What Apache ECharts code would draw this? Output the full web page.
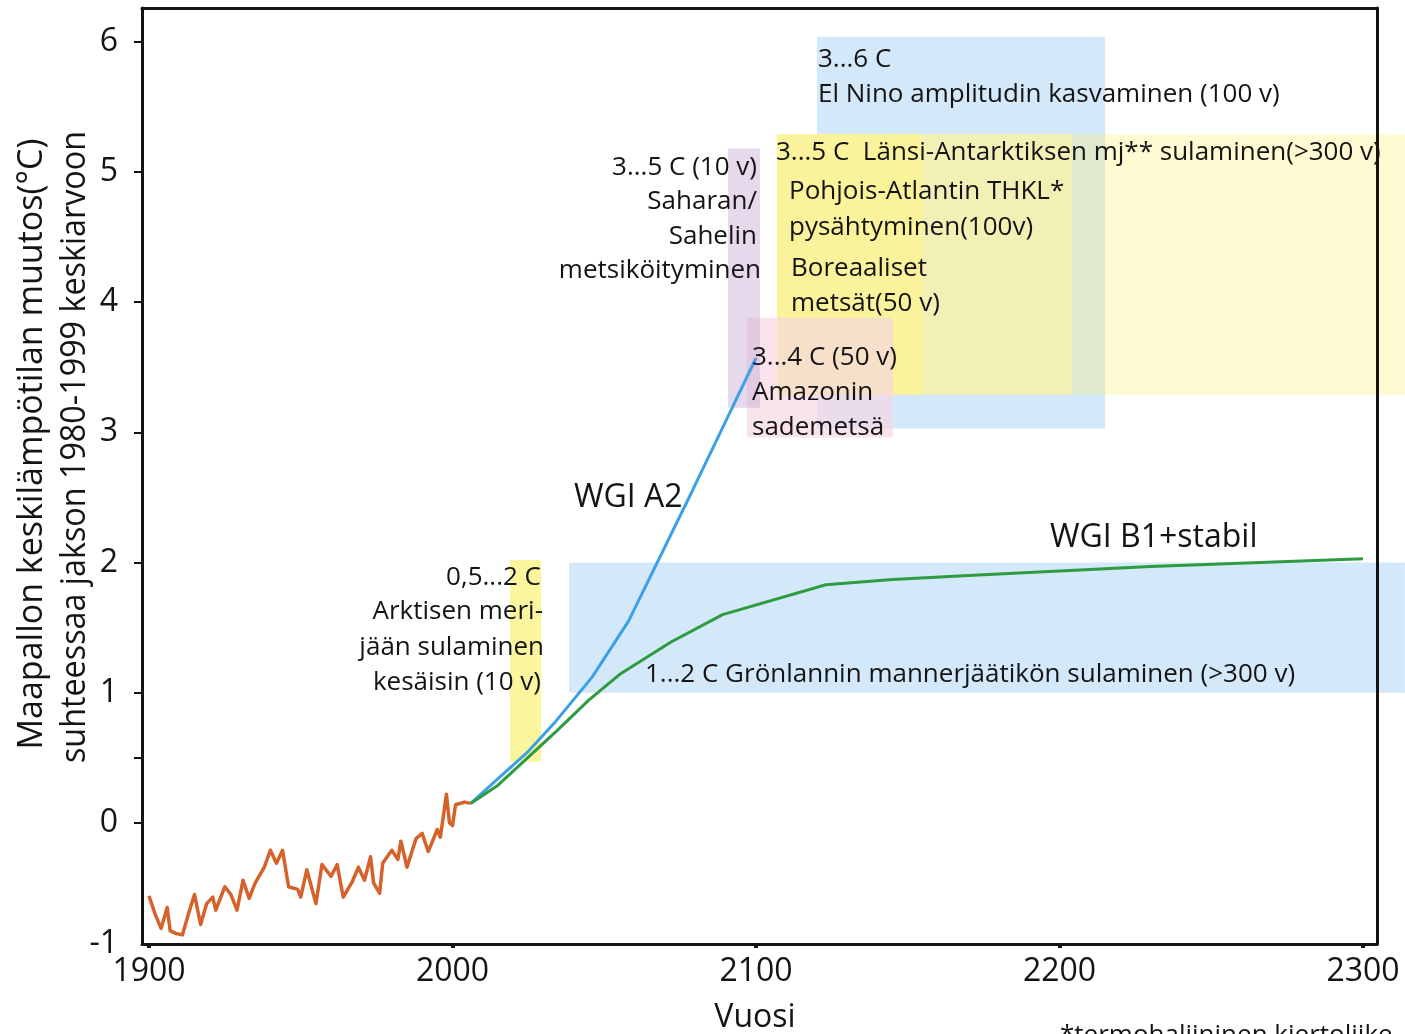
<!DOCTYPE html>
<html>
<head>
<meta charset="utf-8">
<script src="https://cdn.jsdelivr.net/npm/echarts@6/dist/echarts.min.js"></script>
<style>
  html, body { margin: 0; padding: 0; background: #ffffff; }
  #chart { width: 1405px; height: 1034px; }
</style>
</head>
<body>
<div id="chart"></div>
<script>
// Havaittu globaali keskilämpötilan muutos (°C, suhteessa 1980–1999 keskiarvoon)
const obsYears = [1900, 1902, 1904, 1906, 1907, 1909, 1911, 1913, 1915, 1917, 1919, 1921, 1922, 1925, 1927, 1929,
  1931, 1933, 1935, 1938, 1940, 1942, 1944, 1946, 1949, 1950, 1952, 1955, 1957, 1960, 1962, 1964, 1967, 1969,
  1971, 1973, 1974, 1976, 1977, 1980, 1982, 1983, 1985, 1988, 1990, 1992, 1995, 1996, 1998, 1999, 2000, 2001,
  2004, 2006];
const obsTemps = [-0.56, -0.70, -0.81, -0.65, -0.83, -0.85, -0.86, -0.70, -0.55, -0.78, -0.62, -0.57, -0.67, -0.49,
  -0.55, -0.67, -0.44, -0.58, -0.46, -0.34, -0.21, -0.31, -0.21, -0.49, -0.51, -0.57, -0.36, -0.62, -0.32, -0.41,
  -0.32, -0.57, -0.45, -0.34, -0.44, -0.26, -0.46, -0.54, -0.31, -0.21, -0.28, -0.14, -0.34, -0.12, -0.08, -0.22,
  -0.05, -0.11, 0.22, 0.00, -0.02, 0.14, 0.16, 0.15];

// Skenaario WGI A2
const a2Years = [2006, 2015, 2025, 2034, 2046, 2058, 2079, 2100];
const a2Temps = [0.15, 0.34, 0.55, 0.78, 1.12, 1.55, 2.55, 3.57];

// Skenaario WGI B1 + stabilointi
const b1Years = [2006, 2015, 2034, 2045, 2055, 2072, 2089, 2123, 2145, 2170, 2230, 2300];
const b1Temps = [0.15, 0.29, 0.70, 0.945, 1.14, 1.39, 1.60, 1.83, 1.87, 1.90, 1.97, 2.03];

// Kynnysalueet: vuodet (alku, loppu) ja lämpötila (ala, ylä)
const bandNames = ['Grönlanti', 'El Nino', 'Länsi-Antarktis', 'THKL', 'Boreaaliset metsät', 'Amazon', 'Sahara/Sahel', 'Arktinen merijää'];
const bandFrom = [2038.4, 2120.1, 2106.9, 2106.9, 2106.9, 2097.0, 2090.8, 2018.9];
const bandTo   = [2313.8, 2215.0, 2313.8, 2204.1, 2154.7, 2145.1, 2101.3, 2029.2];
const bandLow  = [1.00, 3.03, 3.29, 3.29, 3.29, 2.96, 3.19, 0.47];
const bandHigh = [2.00, 6.04, 5.29, 5.29, 5.29, 3.88, 5.18, 2.02];

// Akselien jaotus
const xTicks = [1900, 2000, 2100, 2200, 2300];
const yTicks = [0, 0.5, 1, 2, 3, 4, 5, 6];
const X_MIN = 1897.7, X_MAX = 2304.6;
const Y_MIN = -0.93, Y_MAX = 6.26;
const yLabels = [Y_MIN, 0, 1, 2, 3, 4, 5, 6];

const bandFill = [
  'rgba(170,210,243,0.52)',
  'rgba(170,210,243,0.52)',
  'rgba(252,238,95,0.29)',
  'rgba(243,240,178,0.93)',
  'rgba(250,242,155,0.95)',
  'rgba(246,214,226,0.65)',
  'rgba(190,160,205,0.40)',
  'rgba(250,242,120,0.72)'
];

const FONT = '"Open Sans", "Noto Sans", sans-serif';
const INK = '#141414';

// Tekstit: [teksti, x, y, tasaus, koko]
const textLayout = [
  ['3...6 C', 818, 60, 'left', 26],
  ['El Nino amplitudin kasvaminen (100 v)', 818, 95, 'left', 26],
  ['3...5 C  Länsi-Antarktiksen mj** sulaminen(>300 v)', 776, 153, 'left', 26],
  ['Pohjois-Atlantin THKL*', 789, 192, 'left', 26],
  ['pysähtyminen(100v)', 789, 228, 'left', 26],
  ['Boreaaliset', 791, 269, 'left', 26],
  ['metsät(50 v)', 791, 304, 'left', 26],
  ['3...4 C (50 v)', 752, 358, 'left', 26],
  ['Amazonin', 752, 393, 'left', 26],
  ['sademetsä', 752, 428, 'left', 26],
  ['3...5 C (10 v)', 757, 168, 'right', 26],
  ['Saharan/', 757, 202, 'right', 26],
  ['Sahelin', 757, 237, 'right', 26],
  ['metsiköityminen', 761, 271, 'right', 26],
  ['0,5...2 C', 541, 578, 'right', 26],
  ['Arktisen meri-', 543, 612, 'right', 26],
  ['jään sulaminen', 544, 648, 'right', 26],
  ['kesäisin (10 v)', 541, 683, 'right', 26],
  ['1...2 C Grönlannin mannerjäätikön sulaminen (>300 v)', 645, 675, 'left', 26],
  ['WGI A2', 574, 498, 'left', 32],
  ['WGI B1+stabil', 1050, 538, 'left', 32],
  ['Vuosi', 755, 1018, 'center', 32],
  ['*termohaliininen kiertoliike', 1060, 1036, 'left', 26]
];

const chart = echarts.init(document.getElementById('chart'), null, { renderer: 'canvas' });

const graphics = textLayout.map(t => ({
  type: 'text',
  x: t[1], y: t[2], z: 100,
  style: {
    text: t[0], fill: INK, font: t[4] + 'px ' + FONT,
    textAlign: t[3], textVerticalAlign: 'middle'
  }
}));
graphics.push({
  type: 'text', x: 32, y: 444, rotation: Math.PI / 2, z: 100,
  style: { text: 'Maapallon keskilämpötilan muutos(°C)', fill: INK, font: '34px ' + FONT,
    textAlign: 'center', textVerticalAlign: 'middle' }
});
graphics.push({
  type: 'text', x: 75, y: 447, rotation: Math.PI / 2, scaleX: 0.95, z: 100,
  style: { text: 'suhteessaa jakson 1980-1999 keskiarvoon', fill: INK, font: '34px ' + FONT,
    textAlign: 'center', textVerticalAlign: 'middle' }
});

const axisLineStyle = { color: INK, width: 3 };

chart.setOption({
  backgroundColor: '#ffffff',
  animation: false,
  grid: { left: 142, right: 28, top: 8, bottom: 90, containLabel: false },
  xAxis: [{
    type: 'value', min: X_MIN, max: X_MAX, z: 10,
    axisLine: { show: true, onZero: false, lineStyle: axisLineStyle },
    axisTick: { show: true, customValues: xTicks, length: 4, lineStyle: { color: INK, width: 4 } },
    axisLabel: { customValues: xTicks, margin: 12, color: INK, fontSize: 32, fontFamily: FONT,
      formatter: v => String(Math.round(v)) },
    splitLine: { show: false }
  }, {
    type: 'value', position: 'top', min: X_MIN, max: X_MAX, z: 10,
    axisLine: { show: true, onZero: false, lineStyle: axisLineStyle },
    axisTick: { show: false }, axisLabel: { show: false }, splitLine: { show: false }
  }],
  yAxis: [{
    type: 'value', min: Y_MIN, max: Y_MAX, z: 10,
    axisLine: { show: true, onZero: false, lineStyle: axisLineStyle },
    axisTick: { show: true, customValues: yTicks, length: 8, lineStyle: { color: INK, width: 2 } },
    axisLabel: { customValues: yLabels, margin: 24, color: INK, fontSize: 32, fontFamily: FONT,
      formatter: v => String(Math.round(v)) },
    splitLine: { show: false }
  }, {
    type: 'value', position: 'right', min: Y_MIN, max: Y_MAX, z: 10,
    axisLine: { show: true, onZero: false, lineStyle: axisLineStyle },
    axisTick: { show: false }, axisLabel: { show: false }, splitLine: { show: false }
  }],
  graphic: graphics,
  series: [{
    name: 'Kynnysalueet',
    type: 'custom',
    clip: false,
    z: 1,
    silent: true,
    encode: { x: [0, 1], y: [2, 3] },
    data: bandFrom.map((f, i) => [f, bandTo[i], bandLow[i], bandHigh[i]]),
    renderItem: (params, api) => {
      const p0 = api.coord([api.value(0), api.value(3)]);
      const p1 = api.coord([api.value(1), api.value(2)]);
      return {
        type: 'rect',
        shape: { x: p0[0], y: p0[1], width: p1[0] - p0[0], height: p1[1] - p0[1] },
        style: { fill: bandFill[params.dataIndex] }
      };
    }
  }, {
    name: 'Havainnot',
    type: 'line', z: 5, showSymbol: false, smooth: false,
    data: obsYears.map((y, i) => [y, obsTemps[i]]),
    lineStyle: { color: '#d4622a', width: 3.5, join: 'round' }
  }, {
    name: 'WGI A2',
    type: 'line', z: 6, showSymbol: false,
    data: a2Years.map((y, i) => [y, a2Temps[i]]),
    lineStyle: { color: '#3c9fe8', width: 3 }
  }, {
    name: 'WGI B1+stabil',
    type: 'line', z: 6, showSymbol: false,
    data: b1Years.map((y, i) => [y, b1Temps[i]]),
    lineStyle: { color: '#2f9b41', width: 3 }
  }]
});
</script>
</body>
</html>
